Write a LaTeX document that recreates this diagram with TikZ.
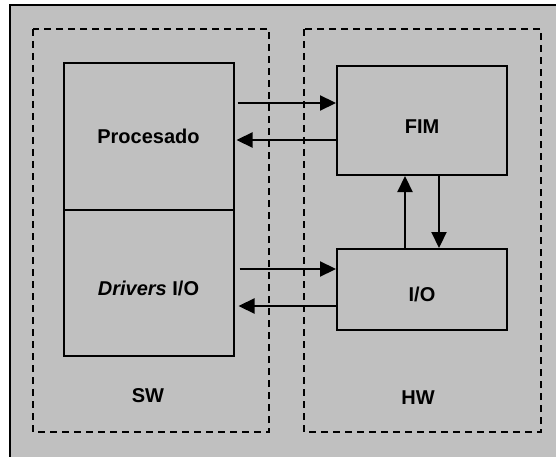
\documentclass[tikz,border=0pt]{standalone}
\usepackage{fontspec}
\setmainfont{Liberation Sans}
\usetikzlibrary{arrows.meta, positioning}
\definecolor{cgrey}{HTML}{C0C0C0}

\begin{document}
\begin{tikzpicture}[x=1pt, y=-1pt,
  blockbox/.style={
    rectangle, draw=black, fill=cgrey, line width=2pt,
    minimum width=170pt, inner sep=0pt,
    font=\fontsize{20}{24}\selectfont\bfseries
  },
  zone/.style={draw=black, dash pattern=on 7pt off 5pt, line width=1.6pt},
  arrowK/.style={-{Triangle[length=16pt, width=15pt]}, draw=black, line width=2.2pt},
  zonelabel/.style={font=\fontsize{20}{24}\selectfont\bfseries}
]

% ============================================================
% Page and grey frame (cut at the right and bottom edges)
\useasboundingbox (0,0) rectangle (556,457);
\fill[white] (0,0) rectangle (556,457);
\clip (0,0) rectangle (556,457);
\draw[fill=cgrey, line width=2pt] (10,5) rectangle (566,467);

% ============================================================
% Dashed zones: software on the left, hardware on the right
\draw[zone] (33,29) rectangle (269,432);
\draw[zone] (304,29) rectangle (541,432);

\node[zonelabel] (sw) at (148,396) {SW};
\node[zonelabel] (hw) at (418,398) {HW};

% ============================================================
% Software blocks
\node[blockbox, minimum height=147pt] (proc) at (148.5,136.5) {Procesado};
\node[blockbox, minimum height=146pt] (drv) at (148.5,283)
  {\raisebox{-5pt}[\height][\depth]{\textit{Drivers} I/O}};

% Hardware blocks
\node[blockbox, minimum height=109pt] (fim) at (422,120.5)
  {\raisebox{-6pt}[\height][\depth]{FIM}};
\node[blockbox, minimum height=81pt] (io) at (422,289.5)
  {\raisebox{-5pt}[\height][\depth]{I/O}};

% ============================================================
% Connectors between the zones
\coordinate (a1) at ([yshift=17.5pt]fim.west);
\coordinate (a2) at ([yshift=-19.5pt]fim.west);
\coordinate (a3) at ([yshift=20.5pt]io.west);
\coordinate (a4) at ([yshift=-16.5pt]io.west);

\draw[arrowK, shorten <=3pt] (proc.east |- a1) -- (a1);
\draw[arrowK, shorten >=2pt] (a2) -- (proc.east |- a2);
\draw[arrowK, shorten <=5pt] (drv.east |- a3) -- (a3);
\draw[arrowK, shorten >=4pt] (a4) -- (drv.east |- a4);

% FIM <-> I/O
\draw[arrowK] ([xshift=-17pt]io.north) -- ([xshift=-17pt]fim.south);
\draw[arrowK] ([xshift=17pt]fim.south) -- ([xshift=17pt]io.north);

\end{tikzpicture}
\end{document}
